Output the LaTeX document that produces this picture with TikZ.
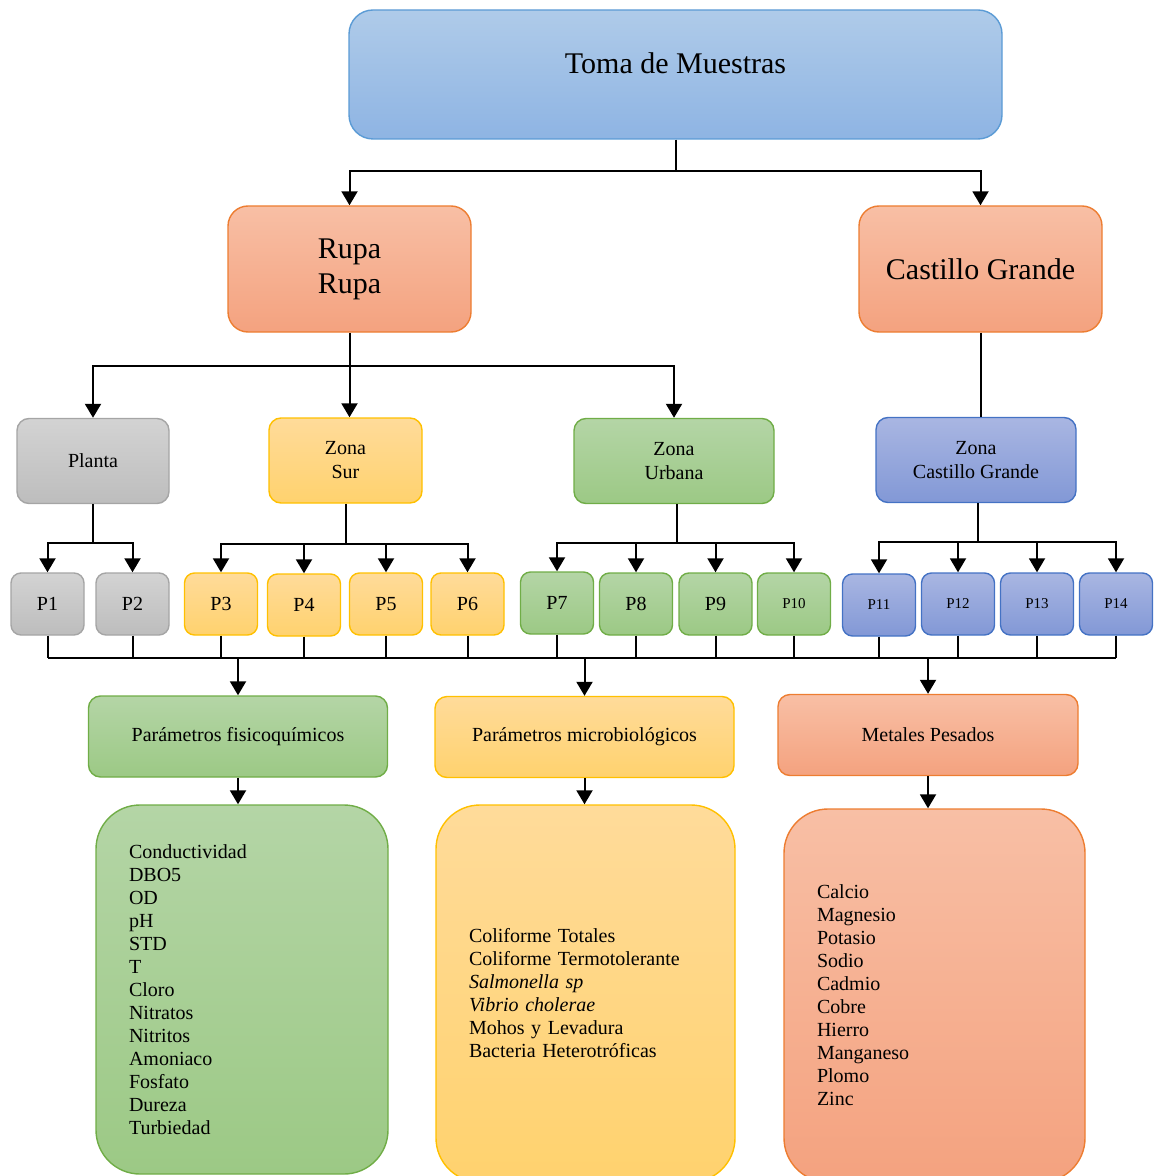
\documentclass[tikz,border=0pt]{standalone}
\usepackage{fontspec}
\setmainfont{Liberation Serif}
\usetikzlibrary{arrows.meta}
\definecolor{bluetop}{HTML}{AFCBE9}
\definecolor{bluebot}{HTML}{8EB4E3}
\definecolor{blueedge}{HTML}{5B9BD5}
\definecolor{orgtop}{HTML}{F8BFA5}
\definecolor{orgbot}{HTML}{F4A27F}
\definecolor{orgedge}{HTML}{ED7D31}
\definecolor{graytop}{HTML}{D3D3D3}
\definecolor{graybot}{HTML}{BDBDBD}
\definecolor{grayedge}{HTML}{A5A5A5}
\definecolor{yeltop}{HTML}{FFDB9A}
\definecolor{yelbot}{HTML}{FFD26E}
\definecolor{yeledge}{HTML}{FFC000}
\definecolor{grntop}{HTML}{B4D5A6}
\definecolor{grnbot}{HTML}{9CC985}
\definecolor{grnedge}{HTML}{70AD47}
\definecolor{indtop}{HTML}{A9B6E2}
\definecolor{indbot}{HTML}{8298D6}
\definecolor{indedge}{HTML}{4472C4}

\begin{document}
\begin{tikzpicture}[x=0.5pt, y=-0.5pt, box/.style = {shape=rectangle, draw, line width=0.7pt, align=center, inner sep=0pt, font=\fontsize{10}{12}\selectfont}, bluebox/.style = {box, draw=blueedge, top color=bluetop, bottom color=bluebot}, orgbox/.style = {box, draw=orgedge, top color=orgtop, bottom color=orgbot}, graybox/.style = {box, draw=grayedge, top color=graytop, bottom color=graybot}, yelbox/.style = {box, draw=yeledge, top color=yeltop, bottom color=yelbot}, grnbox/.style = {box, draw=grnedge, top color=grntop, bottom color=grnbot}, indbox/.style = {box, draw=indedge, top color=indtop, bottom color=indbot}, pbox/.style = {rounded corners=5pt, minimum width=36.5pt, minimum height=31pt}, psmall/.style = {pbox, font=\fontsize{7.5}{9}\selectfont}, zone/.style = {rounded corners=6pt, minimum height=42.5pt}, param/.style = {rounded corners=6pt, minimum width=149.5pt, minimum height=40.5pt}, list/.style = {rounded corners=22pt, align=left, inner xsep=16.5pt, font=\fontsize{10}{11.5}\selectfont}, conn/.style = {line width=1pt}, arr/.style = {conn, -{Triangle[width=8pt,length=7pt]}}]
\useasboundingbox (0,0) rectangle (1155,1176);

% niveles superiores
\node[bluebox, rounded corners=12pt, minimum width=326.5pt, minimum height=64.5pt, text depth=11pt, font=\fontsize{15}{17.5}\selectfont] (toma) at (675.5,74.5) {Toma de Muestras};
\node[orgbox, rounded corners=10pt, minimum width=121.5pt, minimum height=63pt, font=\fontsize{15}{17.5}\selectfont] (rupa) at (349.5,269) {Rupa\\Rupa};
\node[orgbox, rounded corners=10pt, minimum width=121.5pt, minimum height=63pt, font=\fontsize{15}{17.5}\selectfont] (castillo) at (980.5,269) {Castillo Grande};

% zonas
\node[graybox, zone, minimum width=76pt] (planta) at (93,461) {Planta};
\node[yelbox, zone, minimum width=76.5pt] (sur) at (345.5,460.5) {Zona\\Sur};
\node[grnbox, zone, minimum width=100pt] (urbana) at (674,461) {Zona\\Urbana};
\node[indbox, zone, minimum width=100pt] (zcastillo) at (976,460) {Zona\\Castillo Grande};

% puntos de muestreo
\node[graybox, pbox] (p1) at (47.5,604) {P1};
\node[graybox, pbox] (p2) at (132.5,604) {P2};
\node[yelbox, pbox] (p3) at (221,604) {P3};
\node[yelbox, pbox] (p4) at (304,605) {P4};
\node[yelbox, pbox] (p5) at (386,604) {P5};
\node[yelbox, pbox] (p6) at (467.5,604) {P6};
\node[grnbox, pbox] (p7) at (557,603) {P7};
\node[grnbox, pbox] (p8) at (636,604) {P8};
\node[grnbox, pbox] (p9) at (715.5,604) {P9};
\node[grnbox, psmall] (p10) at (794,604) {P10};
\node[indbox, psmall] (p11) at (879,605) {P11};
\node[indbox, psmall] (p12) at (958,604) {P12};
\node[indbox, psmall] (p13) at (1037,604) {P13};
\node[indbox, psmall] (p14) at (1116,604) {P14};

% parametros
\node[grnbox, param] (fisico) at (238,736.5) {Parámetros fisicoquímicos};
\node[yelbox, param] (micro) at (584.5,737) {Parámetros microbiológicos};
\node[orgbox, param, minimum width=150pt] (metales) at (928,735) {Metales Pesados};

\node[grnbox, list, text width=113pt, minimum height=184.5pt] (listfis) at (242,989.5) {Conductividad\\DBO5\\OD\\pH\\STD\\T\\Cloro\\Nitratos\\Nitritos\\Amoniaco\\Fosfato\\Dureza\\Turbiedad};
\node[yelbox, list, text width=116.5pt, minimum height=188.5pt] (listmic) at (585.5,993.5) {Coliforme Totales\\Coliforme Termotolerante\\\textit{Salmonella sp}\\\textit{Vibrio cholerae}\\Mohos y Levadura\\Bacteria Heterotróficas};
\node[orgbox, list, text width=117.5pt, minimum height=186.5pt] (listmet) at (934.5,995.5) {Calcio\\Magnesio\\Potasio\\Sodio\\Cadmio\\Cobre\\Hierro\\Manganeso\\Plomo\\Zinc};

% conectores
\coordinate (btoma) at (675.5,171);
\draw[conn] (toma.south) -- (btoma);
\draw[arr] (btoma) -| (rupa.north);
\draw[arr] (btoma) -| (castillo.north);

\coordinate (brupa) at (349.5,366);
\draw[conn] (rupa.south) -- (brupa);
\draw[arr] (brupa) -| (planta.north);
\draw[arr] (brupa) -- (sur.north -| brupa);
\draw[arr] (brupa) -| (urbana.north);
\draw[conn] (castillo.south) -- (castillo.south |- zcastillo.north);

\coordinate (bplanta) at (93,543);
\draw[conn] (planta.south) -- (bplanta);
\foreach \p in {p1,p2} \draw[arr] (bplanta) -| (\p.north);
\coordinate (bsur) at (345.5,544);
\draw[conn] (sur.south) -- (bsur);
\foreach \p in {p3,p4,p5,p6} \draw[arr] (bsur) -| (\p.north);
\coordinate (burbana) at (676.5,543);
\draw[conn] (urbana.south -| burbana) -- (burbana);
\foreach \p in {p7,p8,p9,p10} \draw[arr] (burbana) -| (\p.north);
\coordinate (bzcast) at (978,542);
\draw[conn] (zcastillo.south -| bzcast) -- (bzcast);
\foreach \p in {p11,p12,p13,p14} \draw[arr] (bzcast) -| (\p.north);

\coordinate (bus) at (0,658);
\foreach \i in {1,...,14} \draw[conn] (p\i.south) -- (p\i.south |- bus);
\draw[conn] (p1.south |- bus) -- (p14.south |- bus);
\foreach \n in {fisico,micro,metales} \draw[arr] (\n.north |- bus) -- (\n.north);

\draw[arr] (fisico.south) -- (fisico.south |- listfis.north);
\draw[arr] (micro.south) -- (micro.south |- listmic.north);
\draw[arr] (metales.south) -- (metales.south |- listmet.north);
\end{tikzpicture}
\end{document}
